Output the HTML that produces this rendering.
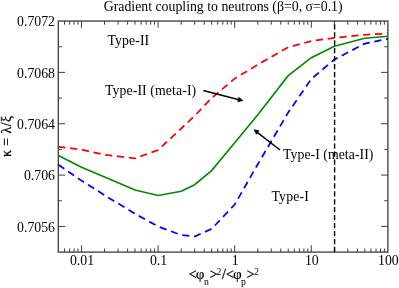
<!DOCTYPE html>
<html><head><meta charset="utf-8">
<style>
html,body{margin:0;padding:0;background:#fff;}
body{width:399px;height:288px;overflow:hidden;font-family:"Liberation Serif",serif;}
svg{display:block;will-change:transform}
text{font-family:"Liberation Serif",serif;fill:#000}
</style></head><body>
<svg width="399" height="288" viewBox="0 0 399 288">
<rect width="399" height="288" fill="#fff"/>
<text x="223.2" y="11" font-size="13.8" text-anchor="middle">Gradient coupling to neutrons (β=0, σ=0.1)</text>
<rect x="58.3" y="21.05" width="329.60" height="231.05" fill="none" stroke="#3c3c3c" stroke-width="1.3"/>
<path d="M64.51 252.1v-3.6M64.51 21.05v3.6M69.63 252.1v-3.6M69.63 21.05v3.6M74.08 252.1v-3.6M74.08 21.05v3.6M77.99 252.1v-3.6M77.99 21.05v3.6M81.50 252.1v-6.8M81.50 21.05v6.8M104.56 252.1v-3.6M104.56 21.05v3.6M118.05 252.1v-3.6M118.05 21.05v3.6M127.62 252.1v-3.6M127.62 21.05v3.6M135.04 252.1v-3.6M135.04 21.05v3.6M141.11 252.1v-3.6M141.11 21.05v3.6M146.23 252.1v-3.6M146.23 21.05v3.6M150.68 252.1v-3.6M150.68 21.05v3.6M154.59 252.1v-3.6M154.59 21.05v3.6M158.10 252.1v-6.8M158.10 21.05v6.8M181.16 252.1v-3.6M181.16 21.05v3.6M194.65 252.1v-3.6M194.65 21.05v3.6M204.22 252.1v-3.6M204.22 21.05v3.6M211.64 252.1v-3.6M211.64 21.05v3.6M217.71 252.1v-3.6M217.71 21.05v3.6M222.83 252.1v-3.6M222.83 21.05v3.6M227.28 252.1v-3.6M227.28 21.05v3.6M231.19 252.1v-3.6M231.19 21.05v3.6M234.70 252.1v-6.8M234.70 21.05v6.8M257.76 252.1v-3.6M257.76 21.05v3.6M271.25 252.1v-3.6M271.25 21.05v3.6M280.82 252.1v-3.6M280.82 21.05v3.6M288.24 252.1v-3.6M288.24 21.05v3.6M294.31 252.1v-3.6M294.31 21.05v3.6M299.43 252.1v-3.6M299.43 21.05v3.6M303.88 252.1v-3.6M303.88 21.05v3.6M307.79 252.1v-3.6M307.79 21.05v3.6M311.30 252.1v-6.8M311.30 21.05v6.8M334.36 252.1v-3.6M334.36 21.05v3.6M347.85 252.1v-3.6M347.85 21.05v3.6M357.42 252.1v-3.6M357.42 21.05v3.6M364.84 252.1v-3.6M364.84 21.05v3.6M370.91 252.1v-3.6M370.91 21.05v3.6M376.03 252.1v-3.6M376.03 21.05v3.6M380.48 252.1v-3.6M380.48 21.05v3.6M384.39 252.1v-3.6M384.39 21.05v3.6M58.3 46.72h3.6M387.9 46.72h-3.6M58.3 72.39h6.8M387.9 72.39h-6.8M58.3 98.07h3.6M387.9 98.07h-3.6M58.3 123.74h6.8M387.9 123.74h-6.8M58.3 149.41h3.6M387.9 149.41h-3.6M58.3 175.08h6.8M387.9 175.08h-6.8M58.3 200.76h3.6M387.9 200.76h-3.6M58.3 226.43h6.8M387.9 226.43h-6.8" fill="none" stroke="#3c3c3c" stroke-width="1"/>
<g font-size="13.8" text-anchor="end"><text x="55" y="26.2">0.7072</text><text x="55" y="77.6">0.7068</text><text x="55" y="128.9">0.7064</text><text x="55" y="180.3">0.706</text><text x="55" y="231.6">0.7056</text></g>
<g font-size="13.8" text-anchor="middle"><text x="82.0" y="265">0.01</text><text x="158.6" y="265">0.1</text><text x="235.2" y="265">1</text><text x="311.8" y="265">10</text><text x="388.4" y="265">100</text></g>
<g font-size="13.8"><text y="279.2" stroke="#000" stroke-width="0.3"><tspan x="188.7">&lt;</tspan><tspan x="209.8">&gt;</tspan><tspan x="221.9">/</tspan><tspan x="226">&lt;</tspan><tspan x="246.7">&gt;</tspan></text>
<text y="279.2" font-size="15" stroke="#000" stroke-width="0.15"><tspan x="195.7">φ</tspan><tspan x="233">φ</tspan></text>
<text font-size="9.8" y="285"><tspan x="203.9">n</tspan><tspan x="241">p</tspan></text>
<text font-size="9.8" y="275.2"><tspan x="216.4">2</tspan><tspan x="254">2</tspan></text></g>
<text transform="translate(11.2,136.2) rotate(-90)" font-size="13.8" text-anchor="middle" letter-spacing="0.45" stroke="#000" stroke-width="0.25">κ = λ/ξ</text>
<polyline fill="none" stroke="#ff0000" stroke-width="1.75" stroke-dasharray="7.2,4.7" stroke-dashoffset="0.1" points="58.4,146.8 81.5,149.6 104.6,154.8 135.0,158.3 158.1,150 181.2,128.5 194.6,115.8 211.6,98.1 234.7,78.6 257.8,64.6 288.2,47.3 311.3,41.1 334.4,37.8 364.8,34.8 387.9,33.5"/>
<polyline fill="none" stroke="#008b00" stroke-width="1.65" points="58.4,155.5 81.5,167.2 104.6,177.1 135.0,190 158.1,195.5 181.2,191.2 194.6,184.7 211.6,170.6 234.7,142.8 257.8,114.8 288.2,75.7 311.3,57.7 334.4,46.2 364.8,38.3 387.9,36.3"/>
<polyline fill="none" stroke="#0000ff" stroke-width="1.75" stroke-dasharray="7.2,4.72" stroke-dashoffset="0.1" points="58.4,164.8 81.5,180.6 104.6,195.2 135.0,213.8 158.1,226.5 181.2,235 194.6,236.5 211.6,228.9 234.7,204.5 257.8,164.2 288.2,112.5 311.3,79 334.4,59.5 364.8,43.6 387.9,38.8"/>
<line x1="334.6" y1="252.1" x2="334.6" y2="21.05" stroke="#000" stroke-width="1.4" stroke-dasharray="5.25,2.7"/>
<g stroke="#000" stroke-width="1.5" fill="#000">
<line x1="203.3" y1="90.4" x2="240" y2="99.9"/>
<polygon points="243.5,100.8 237.3,102.2 238.7,96.8" stroke="none"/>
<line x1="280" y1="150" x2="256" y2="131.3"/>
<polygon points="253.5,129.3 259.5,130.5 256.3,134.7" stroke="none"/>
</g>
<g font-size="13.8">
<text x="107.5" y="44.5" letter-spacing="0.08">Type-II</text>
<text x="105" y="95" letter-spacing="0.09">Type-II (meta-I)</text>
<text x="283" y="158.5" letter-spacing="0.04">Type-I (meta-II)</text>
<text x="271.5" y="201.4" letter-spacing="0.15">Type-I</text>
</g>
</svg>
</body></html>
